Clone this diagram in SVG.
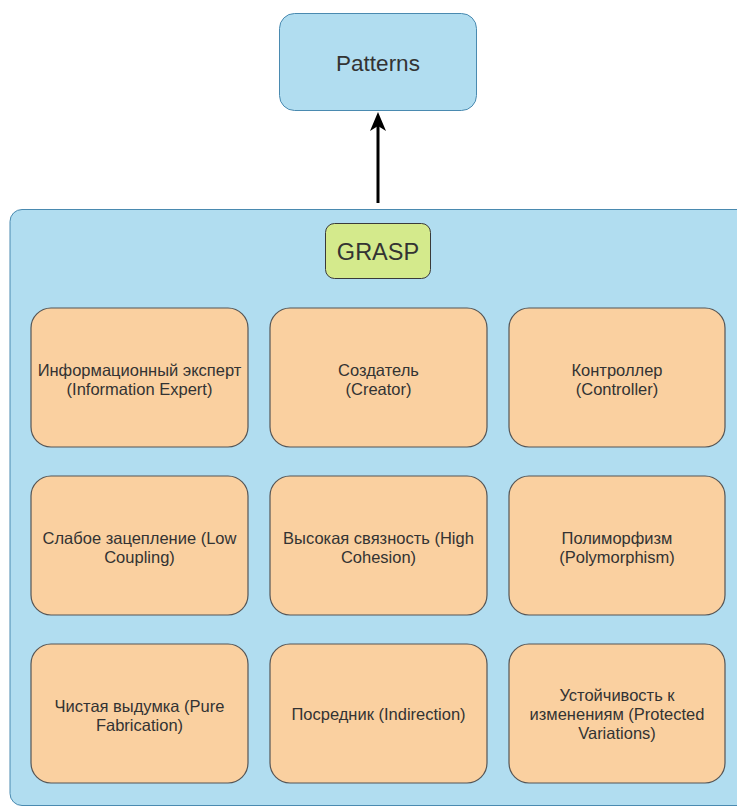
<svg xmlns="http://www.w3.org/2000/svg" width="737" height="807" viewBox="0 0 737 807">
<style>
.blue{fill:#b1ddf0;stroke:#4a8ab0;stroke-width:1}
.card{fill:#fad0a0;stroke:#555;stroke-width:1.2}
.t{font-family:"Liberation Sans",Arial,sans-serif;font-size:16.5px;fill:#333;text-anchor:middle}
.big{font-size:22.5px}
</style>
<g id="container">
<rect class="blue" x="10" y="209.5" width="740" height="596" rx="12"/>
</g>
<g id="patterns">
<rect class="blue" x="279.5" y="13.5" width="197" height="97" rx="15"/>
<text class="t big" x="378" y="71">Patterns</text>
</g>
<g id="connectors">
<line x1="378" y1="203" x2="378" y2="120" stroke="#000" stroke-width="3"/>
<path d="M378,112 L370,131 L378,126 L386,131 Z" fill="#000"/>
</g>
<g id="grasp">
<rect x="325.5" y="223.5" width="105" height="55" rx="9" fill="#d4ea8c" stroke="#3a3a3a" stroke-width="1"/>
<text class="t" x="378" y="259.5" style="font-size:23.5px">GRASP</text>
</g>
<g id="n1"><rect class="card" x="31" y="308" width="217" height="139" rx="20"/>
<text class="t" x="139.5" y="376">Информационный эксперт</text><text class="t" x="139.5" y="395">(Information Expert)</text></g>
<g id="n2"><rect class="card" x="270" y="308" width="217" height="139" rx="20"/>
<text class="t" x="378.5" y="376">Создатель</text><text class="t" x="378.5" y="395">(Creator)</text></g>
<g id="n3"><rect class="card" x="509" y="308" width="216" height="139" rx="20"/>
<text class="t" x="617" y="376">Контроллер</text><text class="t" x="617" y="395">(Controller)</text></g>
<g id="n4"><rect class="card" x="31" y="476" width="217" height="139" rx="20"/>
<text class="t" x="139.5" y="544">Слабое зацепление (Low</text><text class="t" x="139.5" y="563">Coupling)</text></g>
<g id="n5"><rect class="card" x="270" y="476" width="217" height="139" rx="20"/>
<text class="t" x="378.5" y="544">Высокая связность (High</text><text class="t" x="378.5" y="563">Cohesion)</text></g>
<g id="n6"><rect class="card" x="509" y="476" width="216" height="139" rx="20"/>
<text class="t" x="617" y="544">Полиморфизм</text><text class="t" x="617" y="563">(Polymorphism)</text></g>
<g id="n7"><rect class="card" x="31" y="644" width="217" height="139" rx="20"/>
<text class="t" x="139.5" y="712">Чистая выдумка (Pure</text><text class="t" x="139.5" y="731">Fabrication)</text></g>
<g id="n8"><rect class="card" x="270" y="644" width="217" height="139" rx="20"/>
<text class="t" x="378.5" y="720">Посредник (Indirection)</text></g>
<g id="n9"><rect class="card" x="509" y="644" width="216" height="139" rx="20"/>
<text class="t" x="617" y="701">Устойчивость к</text><text class="t" x="617" y="720">изменениям (Protected</text><text class="t" x="617" y="739">Variations)</text></g>
</svg>
